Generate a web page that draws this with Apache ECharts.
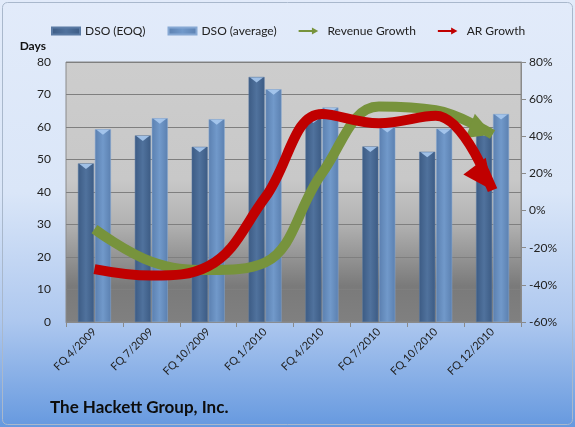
<!DOCTYPE html>
<html>
<head>
<meta charset="utf-8">
<script src="https://cdn.jsdelivr.net/npm/echarts@6/dist/echarts.min.js"></script>
<style>
  html, body { margin: 0; padding: 0; }
  #chart { width: 575px; height: 427px; }
</style>
</head>
<body>
<div id="chart"></div>
<script>
  // quarters on the x axis
  var quarters = ['FQ 4/2009', 'FQ 7/2009', 'FQ 10/2009', 'FQ 1/2010', 'FQ 4/2010', 'FQ 7/2010', 'FQ 10/2010', 'FQ 12/2010'];
  // days sales outstanding (left axis)
  var dsoEoq = [48.8, 57.4, 53.9, 75.4, 62.9, 54.0, 52.4, 58.9];
  var dsoAvg = [59.3, 62.7, 62.4, 71.6, 66.0, 60.0, 59.5, 64.0];
  // growth in % (right axis)
  var revenueGrowth = [-10, -27.5, -32, -28, 20, 56, 54, 41];
  var arGrowth = [-31.5, -35, -30, 7, 52, 47, 51, 11];

  var font = 'Lato, "Open Sans", sans-serif';

  function barColor(edge, mid) {
    return new echarts.graphic.LinearGradient(0, 0, 1, 0, [
      { offset: 0, color: edge },
      { offset: 0.5, color: mid },
      { offset: 1, color: edge }
    ]);
  }

  // little light cap on top of each bar
  function capSeries(values, offsetX) {
    return {
      type: 'scatter',
      data: values,
      symbol: 'triangle',
      symbolRotate: 180,
      symbolSize: [13, 5],
      symbolOffset: [offsetX, 3],
      itemStyle: { color: '#a9c9ee', opacity: 0.9 },
      silent: true,
      z: 2
    };
  }

  // arrow head on the last point of a growth line, tip drawn at the point
  function arrowHead(values, color, path, size, offset, z) {
    var last = values.length - 1;
    return {
      type: 'scatter',
      yAxisIndex: 1,
      data: values.map(function (v, i) { return i === last ? v : '-'; }),
      symbol: path,
      symbolSize: size,
      symbolOffset: offset,
      itemStyle: { color: color, opacity: 1 },
      silent: true,
      z: z
    };
  }

  var arrowIcon = 'path://M0,3.5L19,3.5L19,0L28,5L19,10L19,6.5L0,6.5Z';
  // heads already turned the way the lines run
  var redHead = 'path://M29.2,32.4L22.4,0L0,16.8Z';
  var greenHead = 'path://M27.05,20.7L9.3,0L0,24.2Z';

  var chart = echarts.init(document.getElementById('chart'));
  chart.setOption({
    animation: false,
    backgroundColor: new echarts.graphic.LinearGradient(0, 0, 0, 1, [
      { offset: 0, color: '#e2ebfa' },
      { offset: 0.45, color: '#dae6f8' },
      { offset: 0.75, color: '#aec8ef' },
      { offset: 1, color: '#6699df' }
    ]),
    graphic: [{
      type: 'rect',
      shape: { x: 2.5, y: 2.5, width: 570, height: 422, r: 5 },
      style: { fill: 'none', stroke: '#a9b8cc', lineWidth: 1 },
      silent: true
    }, {
      type: 'text',
      left: 50,
      top: 399,
      style: { text: 'The Hackett Group, Inc.', font: 'bold 17px ' + font, fill: '#0d0d0d' }
    }],
    legend: {
      left: 46,
      top: 20,
      itemGap: 22,
      itemWidth: 28,
      itemHeight: 7,
      textStyle: { fontFamily: font, fontSize: 12, color: '#222' },
      data: [
        { name: 'DSO (EOQ)', icon: 'rect' },
        { name: 'DSO (average)', icon: 'rect' },
        { name: 'Revenue Growth', icon: arrowIcon, itemStyle: { color: '#77933c' } },
        { name: 'AR Growth', icon: arrowIcon, itemStyle: { color: '#c00000' } }
      ],
      selectedMode: false
    },
    grid: {
      left: 66,
      right: 54,
      top: 62,
      bottom: 105,
      show: true,
      borderColor: '#8a8a8a',
      borderWidth: 1,
      backgroundColor: new echarts.graphic.LinearGradient(0, 0, 0, 1, [
        { offset: 0, color: '#cdcdcd' },
        { offset: 0.45, color: '#c8c8c8' },
        { offset: 0.62, color: '#b2b2b2' },
        { offset: 0.86, color: '#7a7a7a' },
        { offset: 1, color: '#808080' }
      ])
    },
    xAxis: {
      type: 'category',
      data: quarters,
      axisLine: { lineStyle: { color: '#8a8a8a' } },
      axisTick: { show: true, length: 5, lineStyle: { color: '#8a8a8a' } },
      axisLabel: { rotate: 45, fontFamily: font, fontSize: 11, color: '#222', margin: 8 }
    },
    yAxis: [{
      type: 'value',
      min: 0,
      max: 80,
      interval: 10,
      name: 'Days',
      nameGap: 10,
      nameTextStyle: { fontFamily: font, fontSize: 12, fontWeight: 'bold', color: '#111', align: 'right', padding: [0, 20, 0, 0] },
      axisLine: { show: false },
      axisTick: { show: false },
      axisLabel: { fontFamily: font, fontSize: 12, color: '#222', margin: 15 },
      splitLine: { lineStyle: { color: '#7f7f7f' } }
    }, {
      type: 'value',
      min: -60,
      max: 80,
      interval: 20,
      position: 'right',
      axisLine: { show: true, lineStyle: { color: '#8a8a8a' } },
      axisTick: { show: true, length: 5, lineStyle: { color: '#8a8a8a' } },
      axisLabel: { formatter: '{value}%', fontFamily: font, fontSize: 12, color: '#222', margin: 8 },
      splitLine: { show: false }
    }],
    series: [{
      name: 'DSO (EOQ)',
      type: 'bar',
      data: dsoEoq,
      barWidth: 16,
      barGap: '6%',
      itemStyle: { color: barColor('#3c5b84', '#50729d'), borderColor: '#5a7aa3', borderWidth: 0.5 }
    }, {
      name: 'DSO (average)',
      type: 'bar',
      data: dsoAvg,
      barWidth: 16,
      itemStyle: { color: barColor('#5b80b0', '#7199ca'), borderColor: '#86a8d3', borderWidth: 0.5 }
    },
    capSeries(dsoEoq, -8.5),
    capSeries(dsoAvg, 8.5),
    {
      name: 'Revenue Growth',
      type: 'line',
      yAxisIndex: 1,
      z: 3,
      data: revenueGrowth,
      smooth: 0.4,
      symbol: 'none',
      lineStyle: { color: '#77933c', width: 10 },
      itemStyle: { color: '#77933c' },
      emphasis: { disabled: true }
    },
    arrowHead(revenueGrowth, '#77933c', greenHead, [27.05, 24.2], [-13.5, -8.6], 3),
    {
      name: 'AR Growth',
      type: 'line',
      yAxisIndex: 1,
      z: 4,
      data: arGrowth,
      smooth: 0.4,
      symbol: 'none',
      lineStyle: { color: '#c00000', width: 10 },
      itemStyle: { color: '#c00000' },
      emphasis: { disabled: true }
    },
    arrowHead(arGrowth, '#c00000', redHead, [29.2, 32.4], [-14.6, -16.2], 4)]
  });
</script>
</body>
</html>
